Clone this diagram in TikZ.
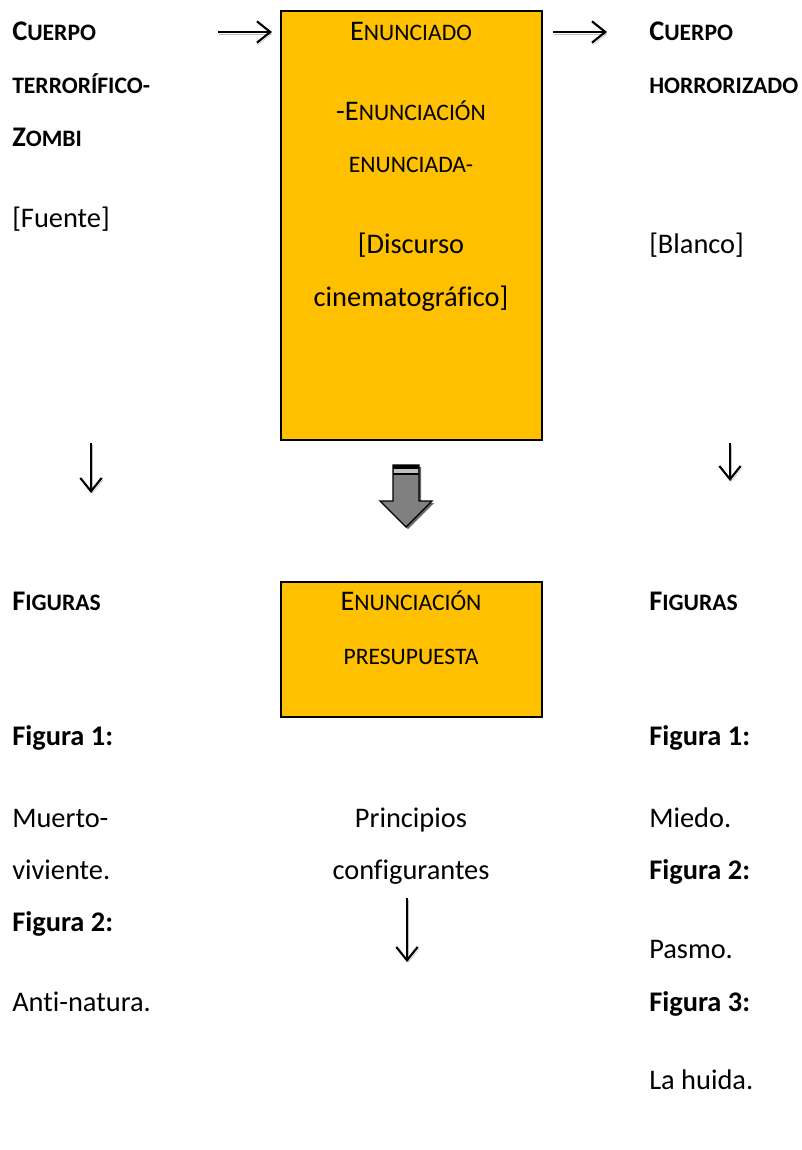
\documentclass[tikz,border=0pt]{standalone}
\usepackage{fontspec}
\setmainfont{Carlito}[Ligatures=NoCommon]
\usetikzlibrary{arrows.meta,positioning}
\definecolor{ambar}{HTML}{FFC000}
\definecolor{gris}{HTML}{808080}
\newcommand{\pc}[1]{{\fontsize{17.7}{21}\selectfont #1}}

\begin{document}
\begin{tikzpicture}[x=0.75pt,y=-0.75pt,
  txt/.style={inner sep=0pt, anchor=base west, font=\fontsize{21.3}{25}\selectfont},
  ctxt/.style={txt, anchor=base},
  caja/.style={draw=black, line width=1.5pt, fill=ambar, inner sep=0pt, minimum width=195.75pt},
  flecha/.style={line width=1.6pt, -{Straight Barb[length=10pt,width=16pt]},
    preaction={draw=black!25, transform canvas={shift={(1pt,-1.5pt)}}}}
]
\useasboundingbox (0,0) rectangle (801,1150);

% Cajas
\node[caja, minimum height=321.75pt] (enunciado) at (411.5,225.5) {};
\node[caja, minimum height=101.25pt] (presupuesta) at (411.5,649.5) {};

% Texto de la caja superior
\node[ctxt] (e1) at (411,40) {E\pc{NUNCIADO}};
\node[ctxt] (e2) at (411,120) {-E\pc{NUNCIACIÓN}};
\node[ctxt] (e3) at (411,172) {\pc{ENUNCIADA-}};
\node[ctxt] (e4) at (411,253) {[Discurso};
\node[ctxt] (e5) at (411,306) {cinematográfico]};

% Texto de la caja inferior
\node[ctxt] (p1) at (411,610) {E\pc{NUNCIACIÓN}};
\node[ctxt] (p2) at (411,664) {\pc{PRESUPUESTA}};

% Columna izquierda
\node[txt, font=\fontsize{21.3}{25}\selectfont\bfseries] (z1) at (12,40) {C\pc{UERPO}};
\node[txt, font=\fontsize{21.3}{25}\selectfont\bfseries] (z2) at (12,93) {\pc{TERRORÍFICO-}};
\node[txt, font=\fontsize{21.3}{25}\selectfont\bfseries] (z3) at (12,146) {Z\pc{OMBI}};
\node[txt] (z4) at (12,227) {[Fuente]};
\node[txt, font=\fontsize{21.3}{25}\selectfont\bfseries] (zf) at (12,610) {F\pc{IGURAS}};
\node[txt, font=\fontsize{21.3}{25}\selectfont\bfseries] (zf1) at (12,745) {Figura 1:};
\node[txt] (zm1) at (12,827) {Muerto-};
\node[txt] (zm2) at (12,879) {viviente.};
\node[txt, font=\fontsize{21.3}{25}\selectfont\bfseries] (zf2) at (12,931) {Figura 2:};
\node[txt] (zm3) at (12,1011) {Anti-natura.};

% Columna derecha
\node[txt, font=\fontsize{21.3}{25}\selectfont\bfseries] (h1) at (649,40) {C\pc{UERPO}};
\node[txt, font=\fontsize{21.3}{25}\selectfont\bfseries] (h2) at (649,93) {\pc{HORRORIZADO}};
\node[txt] (h3) at (649,253) {[Blanco]};
\node[txt, font=\fontsize{21.3}{25}\selectfont\bfseries] (hf) at (649,610) {F\pc{IGURAS}};
\node[txt, font=\fontsize{21.3}{25}\selectfont\bfseries] (hf1) at (649,745) {Figura 1:};
\node[txt] (hm1) at (649,827) {Miedo.};
\node[txt, font=\fontsize{21.3}{25}\selectfont\bfseries] (hf2) at (649,879) {Figura 2:};
\node[txt] (hm2) at (649,958) {Pasmo.};
\node[txt, font=\fontsize{21.3}{25}\selectfont\bfseries] (hf3) at (649,1011) {Figura 3:};
\node[txt] (hm3) at (649,1089) {La huida.};

% Centro
\node[ctxt] (c1) at (411,827) {Principios};
\node[ctxt] (c2) at (411,879) {configurantes};

% Flechas
\coordinate (a1) at (218,32);
\coordinate (a2) at (272,32);
\coordinate (b1) at (553,32);
\coordinate (b2) at (607,32);
\coordinate (d1) at (91,443);
\coordinate (d2) at (91,493);
\coordinate (r1) at (730,443);
\coordinate (r2) at (730,481);
\coordinate (m1) at (407,898);
\coordinate (m2) at (407,962);
\draw[flecha] (a1) -- (a2);
\draw[flecha] (b1) -- (b2);
\draw[flecha] (d1) -- (d2);
\draw[flecha] (r1) -- (r2);
\draw[flecha] (m1) -- (m2);

% Flecha gruesa
\fill[black!60] (395,467) -- (421,467) -- (421,503) -- (434,503) -- (408,529) -- (382,503) -- (395,503) -- cycle;
\filldraw[fill=gris, line width=1pt] (393,465) -- (419,465) -- (419,501) -- (432,501) -- (406,527) -- (380,501) -- (393,501) -- cycle;
\fill (393,465) rectangle (419,469);
\fill[black!25] (394,469) rectangle (418,472.5);
\draw[line width=1pt] (393,474) -- (419,474);
\end{tikzpicture}
\end{document}
